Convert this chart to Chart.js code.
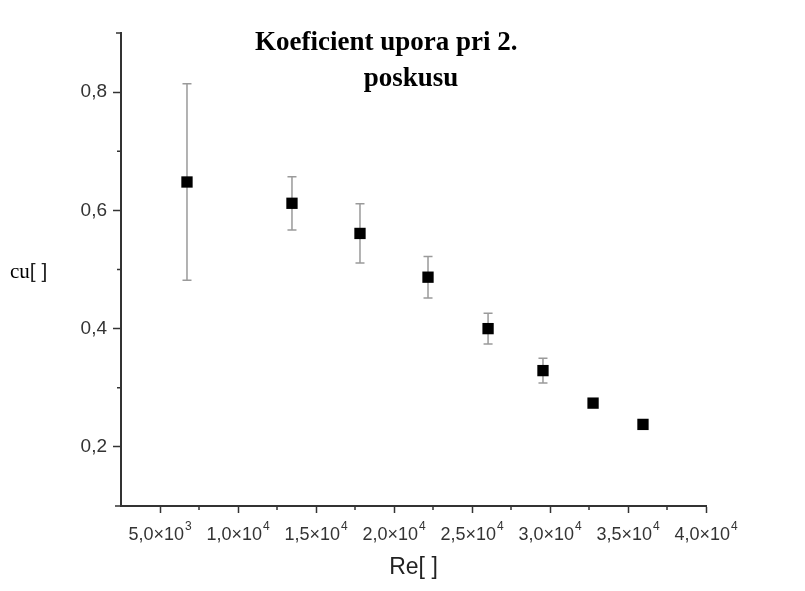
<!DOCTYPE html>
<html>
<head>
<meta charset="utf-8">
<script src="https://cdn.jsdelivr.net/npm/chart.js@4"></script>
<style>
  body { margin: 0; background: #fff; }
  #wrap { width: 805px; height: 591px; }
</style>
</head>
<body>
<div id="wrap"><canvas id="myChart" width="805" height="591"></canvas></div>
<script>
// podatki odcitani z grafa
const reynolds = [6730, 13460, 17820, 22180, 26030, 29550, 32760, 35960];
const cu = [0.648, 0.612, 0.561, 0.487, 0.400, 0.329, 0.274, 0.238];
const cuErr = [0.166, 0.045, 0.050, 0.035, 0.026, 0.021, 0.005, 0.003];

const xTicks = [5000, 10000, 15000, 20000, 25000, 30000, 35000, 40000];
const xMant = ['5,0', '1,0', '1,5', '2,0', '2,5', '3,0', '3,5', '4,0'];
const xExp = ['3', '4', '4', '4', '4', '4', '4', '4'];
const xMinor = [7500, 12500, 17500, 22500, 27500, 32500, 37500];
const yTicks = [0.2, 0.4, 0.6, 0.8];
const yLabels = ['0,2', '0,4', '0,6', '0,8'];
const yMinor = [0.3, 0.5, 0.7];

const titleLines = ['Koeficient upora pri 2.', 'poskusu'];

const points = reynolds.map((x, i) => ({ x: x, y: cu[i] }));

const SANS = '"Liberation Sans", Arial, sans-serif';

// napake, manjse oznake in besedila
const extras = {
  id: 'extras',
  beforeDatasetsDraw(chart) {
    const c = chart.ctx;
    const xs = chart.scales.x, ys = chart.scales.y;
    c.save();
    c.strokeStyle = '#9a9a9a';
    c.lineWidth = 1.5;
    for (let i = 0; i < reynolds.length; i++) {
      const px = xs.getPixelForValue(reynolds[i]);
      const top = ys.getPixelForValue(cu[i] + cuErr[i]);
      const bot = ys.getPixelForValue(cu[i] - cuErr[i]);
      c.beginPath();
      c.moveTo(px, top); c.lineTo(px, bot);
      c.moveTo(px - 4.5, top); c.lineTo(px + 4.5, top);
      c.moveTo(px - 4.5, bot); c.lineTo(px + 4.5, bot);
      c.stroke();
    }
    c.restore();
  },
  afterDraw(chart) {
    const c = chart.ctx;
    const xs = chart.scales.x, ys = chart.scales.y;
    const a = chart.chartArea;
    c.save();
    c.strokeStyle = '#333';
    c.lineWidth = 1.5;
    c.beginPath();
    xMinor.forEach(v => {
      const px = xs.getPixelForValue(v);
      c.moveTo(px, a.bottom); c.lineTo(px, a.bottom + 4);
    });
    yMinor.forEach(v => {
      const py = ys.getPixelForValue(v);
      c.moveTo(a.left, py); c.lineTo(a.left - 4, py);
    });
    c.moveTo(a.left, a.top); c.lineTo(a.left - 5, a.top);
    c.moveTo(a.left, a.bottom); c.lineTo(a.left - 6, a.bottom);
    c.stroke();

    // oznake x osi z eksponentom
    c.fillStyle = '#333';
    c.textBaseline = 'alphabetic';
    c.textAlign = 'left';
    xTicks.forEach((v, i) => {
      const px = xs.getPixelForValue(v);
      c.font = '18px ' + SANS;
      const base = xMant[i] + '×10';
      const wb = c.measureText(base).width;
      c.font = '12px ' + SANS;
      const we = c.measureText(xExp[i]).width;
      const x0 = px - (wb + we + 1) / 2;
      c.font = '18px ' + SANS;
      c.fillText(base, x0, 540);
      c.font = '12px ' + SANS;
      c.fillText(xExp[i], x0 + wb + 1, 530);
    });

    // naslov
    c.fillStyle = '#000';
    c.font = 'bold 27px "Liberation Serif", "Times New Roman", serif';
    c.textBaseline = 'middle';
    c.textAlign = 'left';
    c.fillText(titleLines[0], 255, 43);
    c.textAlign = 'center';
    c.fillText(titleLines[1], 411, 79);

    c.textAlign = 'left';
    c.font = '21px "Liberation Serif", serif';
    c.fillText('cu', 10, 272);
    const w = c.measureText('cu').width;
    c.fillStyle = '#222';
    c.font = '21px ' + SANS;
    c.fillText('[ ]', 10 + w, 272);
    c.restore();
  }
};

new Chart(document.getElementById('myChart'), {
  type: 'scatter',
  data: {
    datasets: [{
      data: points,
      pointStyle: 'rect',
      pointRadius: 8,
      pointHoverRadius: 8,
      backgroundColor: '#000',
      borderColor: '#000',
      borderWidth: 0
    }]
  },
  options: {
    responsive: false,
    animation: false,
    events: [],
    layout: { padding: { top: 33, right: 99, left: 0, bottom: 0 } },
    plugins: { legend: { display: false }, tooltip: { enabled: false }, title: { display: false } },
    scales: {
      x: {
        type: 'linear',
        min: 2500,
        max: 40000,
        afterFit(s) { s.height = 85; },
        afterBuildTicks(s) { s.ticks = xTicks.map(v => ({ value: v })); },
        grid: { drawOnChartArea: false, tickLength: 7, tickColor: '#333', tickWidth: 1.5 },
        border: { color: '#333', width: 2 },
        ticks: { display: false },
        title: {
          display: true,
          text: 'Re[ ]',
          color: '#222',
          padding: { top: 0, bottom: 10 },
          font: { family: SANS, size: 23 }
        }
      },
      y: {
        type: 'linear',
        min: 0.1,
        max: 0.9,
        afterFit(s) { s.width = 121; },
        afterBuildTicks(s) { s.ticks = yTicks.map(v => ({ value: v })); },
        grid: { drawOnChartArea: false, tickLength: 8, tickColor: '#333', tickWidth: 1.5 },
        border: { color: '#333', width: 2 },
        ticks: {
          color: '#333',
          padding: 6,
          font: { family: SANS, size: 19 },
          callback(v) {
            const i = yTicks.findIndex(t => Math.abs(t - v) < 1e-9);
            return i >= 0 ? yLabels[i] : '';
          }
        }
      }
    }
  },
  plugins: [extras]
});
</script>
</body>
</html>
